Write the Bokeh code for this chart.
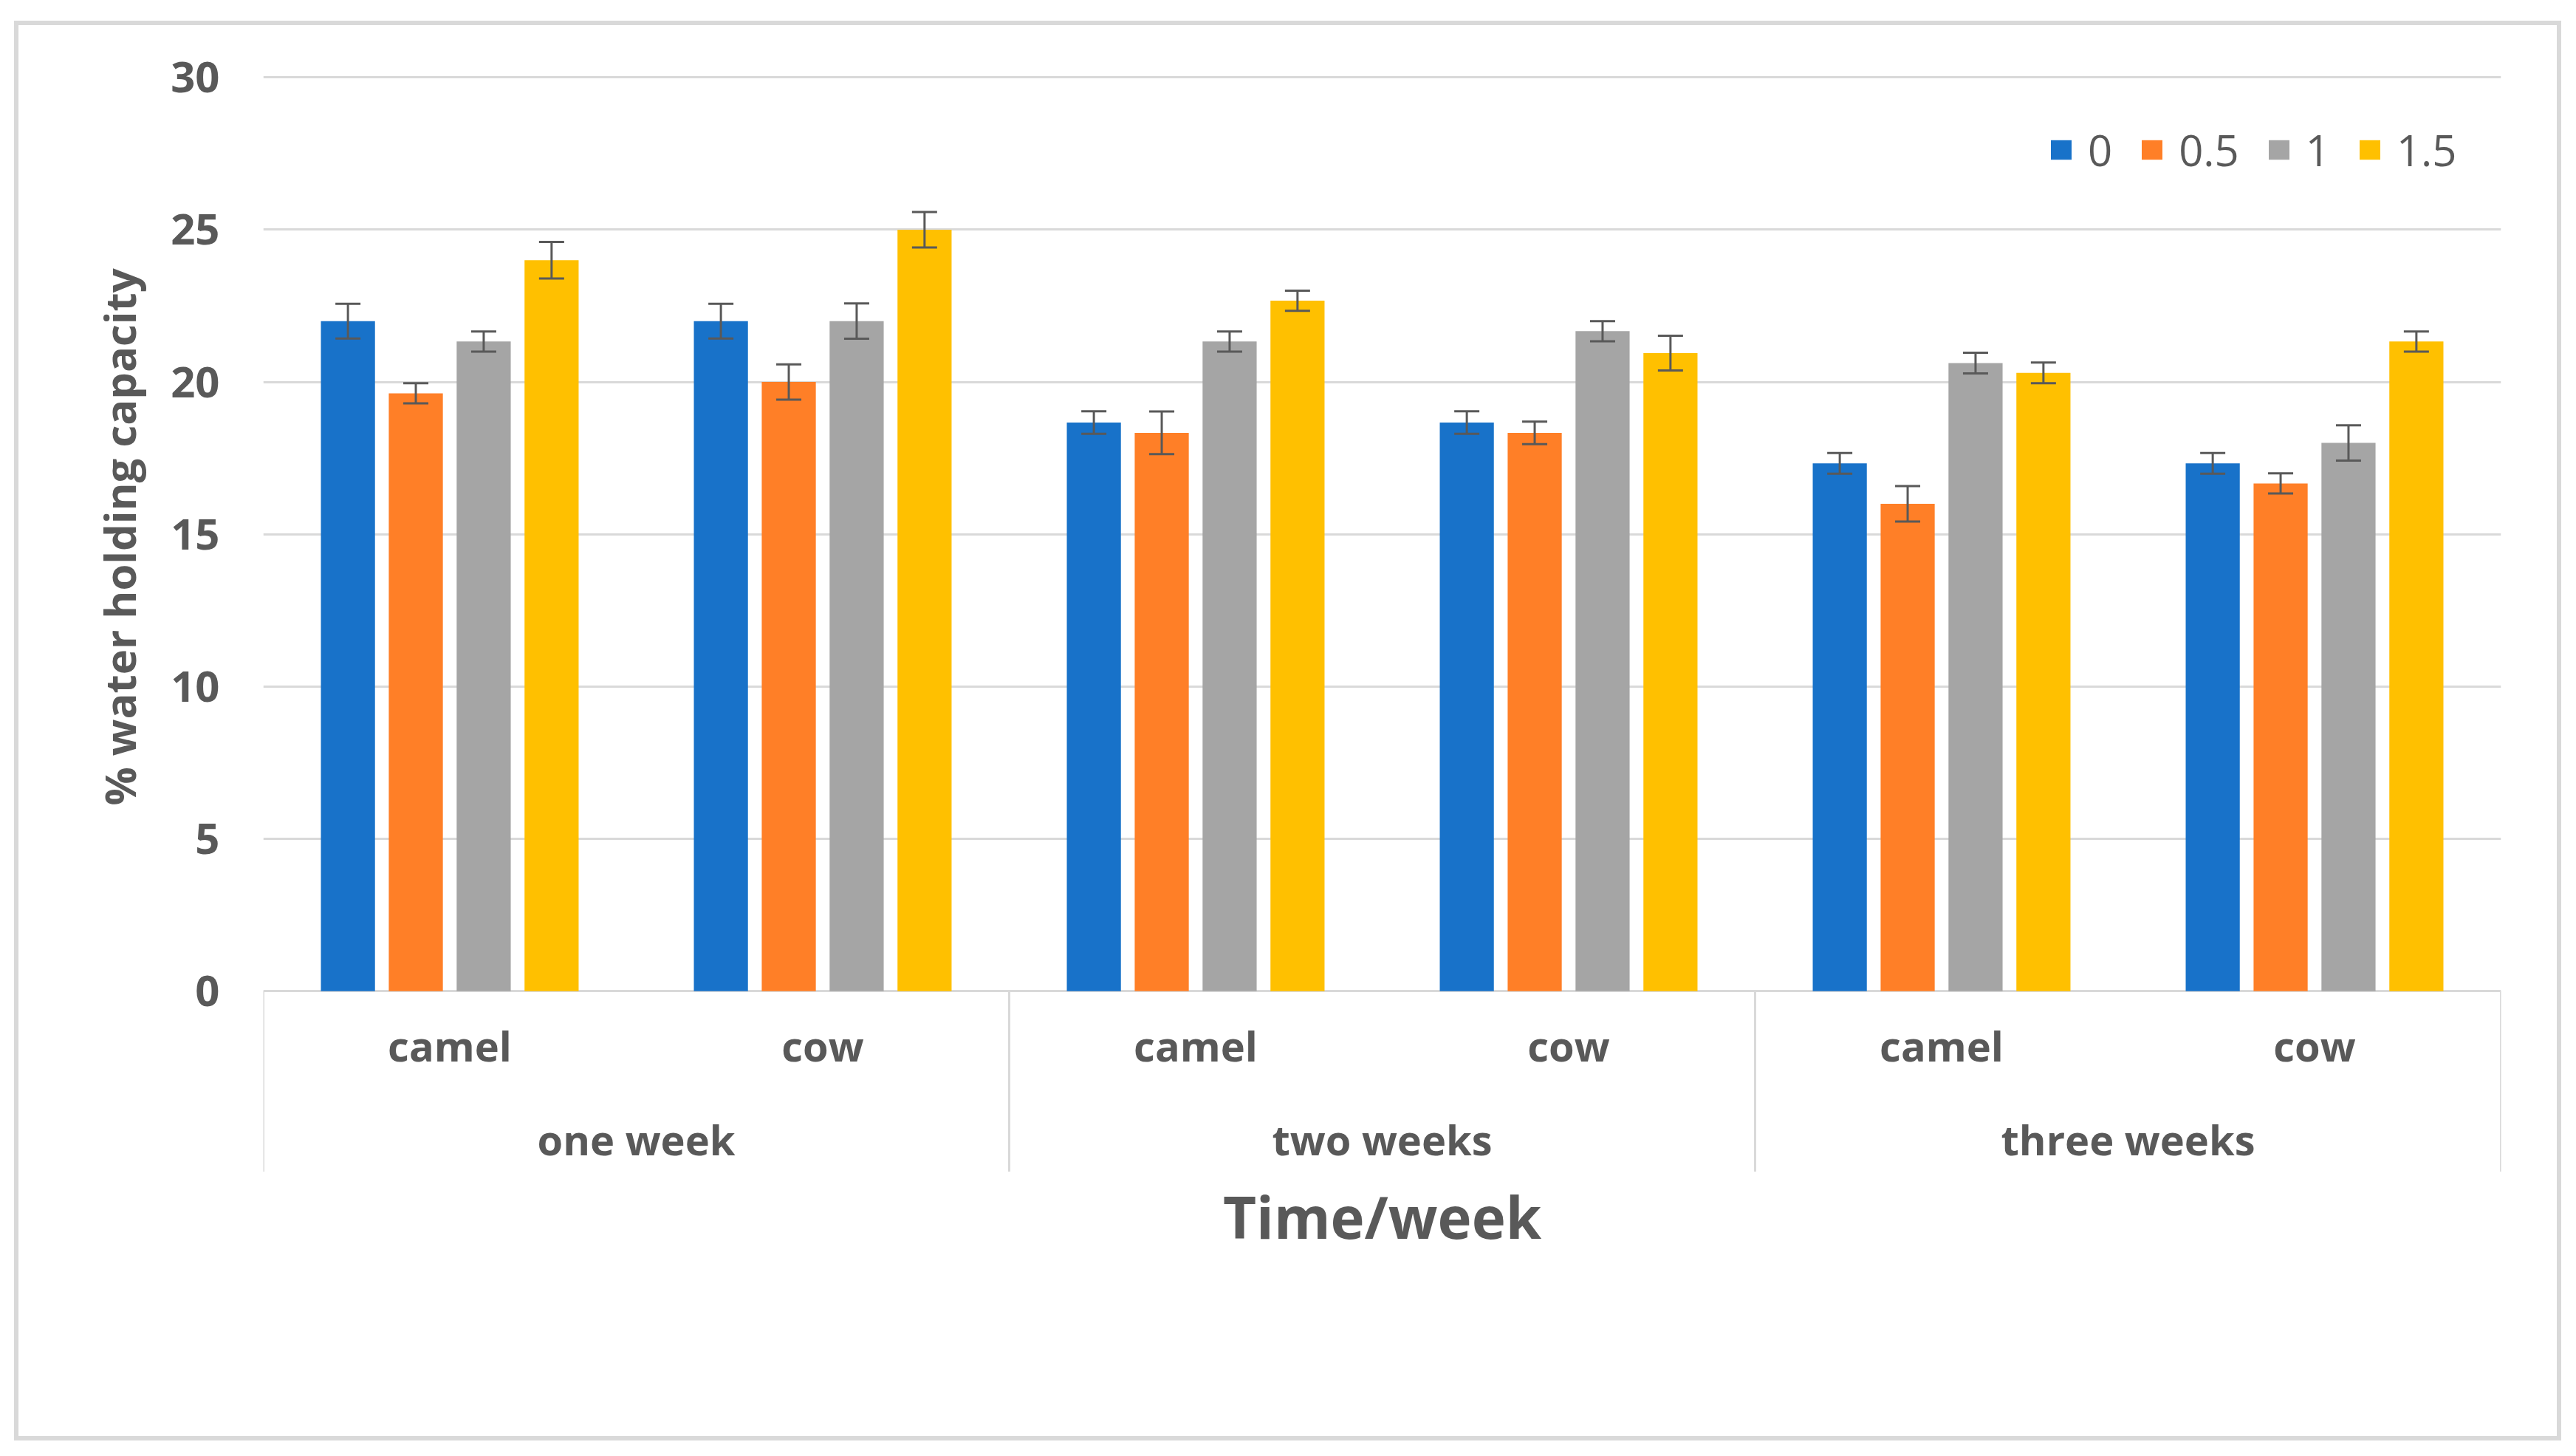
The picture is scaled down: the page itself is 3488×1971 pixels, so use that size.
import math
from bokeh.plotting import figure
from bokeh.models import (ColumnDataSource, FactorRange, Range1d, FixedTicker,
                          Whisker, TeeHead, Label, Legend, Title)
from bokeh.transform import dodge
from bokeh.core.properties import value
from bokeh.embed import file_html
from bokeh.resources import INLINE

# ---------------- data ----------------
weeks = ["one week", "two weeks", "three weeks"]
animals = ["camel", "cow"]
doses = ["0", "0.5", "1", "1.5"]

# % water holding capacity, order: (one week camel, one week cow, two weeks camel, ...)
whc_0 = [22.0, 22.0, 18.67, 18.67, 17.33, 17.33]
whc_05 = [19.63, 20.0, 18.33, 18.33, 16.0, 16.67]
whc_1 = [21.33, 22.0, 21.33, 21.67, 20.62, 18.0]
whc_15 = [24.0, 25.0, 22.67, 20.95, 20.3, 21.33]

err_0 = [0.57, 0.57, 0.37, 0.37, 0.34, 0.34]
err_05 = [0.33, 0.58, 0.70, 0.37, 0.58, 0.33]
err_1 = [0.33, 0.58, 0.33, 0.33, 0.34, 0.58]
err_15 = [0.60, 0.58, 0.33, 0.57, 0.34, 0.33]

y_ticks = [0, 5, 10, 15, 20, 25, 30]

x_title = "Time/week"
y_title = "% water holding capacity"

# ---------------- styling ----------------
colors = ["#1872C9", "#FF7F27", "#A5A5A5", "#FFC000"]
offsets = [-0.273, -0.091, 0.091, 0.273]
bar_width = 0.145
text_color = "#595959"
grid_color = "#D9D9D9"
FONT = "Open Sans"

factors = [(w, a) for w in weeks for a in animals]
series = [whc_0, whc_05, whc_1, whc_15]
errors = [err_0, err_05, err_1, err_15]

data = dict(x=factors)
for i, (vals, errs) in enumerate(zip(series, errors)):
    data[f"v{i}"] = vals
    data[f"up{i}"] = [v + e for v, e in zip(vals, errs)]
    data[f"lo{i}"] = [v - e for v, e in zip(vals, errs)]
src = ColumnDataSource(data)

p = figure(
    x_range=FactorRange(*factors, factor_padding=0, group_padding=0, range_padding=0),
    y_range=Range1d(-10.5, 30.3),
    width=3449, height=1922,
    x_axis_location=None,
    toolbar_location=None, output_backend="svg",
    min_border_left=331, min_border_right=88, min_border_top=58, min_border_bottom=182,
    background_fill_color="white", border_fill_color="white",
    outline_line_color=None,
    styles={"position": "relative", "left": "19px", "top": "28px",
            "box-sizing": "border-box", "border": "6px solid #D9D9D9"},
)

# grid
for g in p.xgrid:
    g.visible = False
p.ygrid.ticker = FixedTicker(ticks=y_ticks)
p.ygrid.grid_line_color = grid_color
p.ygrid.grid_line_width = 3

# y axis
ax = p.yaxis[0]
ax.ticker = FixedTicker(ticks=y_ticks)
ax.axis_line_color = None
ax.major_tick_line_color = None
ax.minor_tick_line_color = None
ax.major_tick_out = 0
ax.major_tick_in = 0
ax.major_label_standoff = 59
ax.major_label_text_font = FONT
ax.major_label_text_font_style = "bold"
ax.major_label_text_font_size = "58px"
ax.major_label_text_color = text_color

# bars + error bars
renderers = []
for i in range(4):
    xd = dodge("x", offsets[i], range=p.x_range)
    r = p.vbar(x=xd, top=f"v{i}", width=bar_width, source=src,
               fill_color=colors[i], line_color=None)
    renderers.append(r)
    w = Whisker(base=dodge("x", offsets[i], range=p.x_range),
                upper=f"up{i}", lower=f"lo{i}", source=src, level="annotation",
                line_color=text_color, line_width=3,
                upper_head=TeeHead(size=34, line_color=text_color, line_width=3),
                lower_head=TeeHead(size=34, line_color=text_color, line_width=3))
    p.add_layout(w)

# category separators below the baseline
sep_left = ColumnDataSource(dict(x=[(w, animals[0]) for w in weeks]))
sep_right = ColumnDataSource(dict(x=[(weeks[-1], animals[-1])]))
p.segment(x0=dodge("x", -0.5, range=p.x_range), x1=dodge("x", -0.5, range=p.x_range),
          y0=0, y1=-5.93, source=sep_left, line_color=grid_color, line_width=3)
p.segment(x0=dodge("x", 0.5, range=p.x_range), x1=dodge("x", 0.5, range=p.x_range),
          y0=0, y1=-5.93, source=sep_right, line_color=grid_color, line_width=3)

# category labels
sub_src = ColumnDataSource(dict(x=factors, t=[f[1] for f in factors]))
p.text(x="x", y=-1.77, text="t", source=sub_src, text_font=value(FONT),
       text_font_style="bold", text_font_size="56px", text_color=text_color,
       text_align="center", text_baseline="alphabetic")
grp_src = ColumnDataSource(dict(x=weeks, t=weeks))
p.text(x="x", y=-4.85, text="t", source=grp_src, text_font=value(FONT),
       text_font_style="bold", text_font_size="56px", text_color=text_color,
       text_align="center", text_baseline="alphabetic")

# axis titles
p.add_layout(Label(x=len(factors) / 2, y=-7.41, text=x_title, text_font=FONT,
                   text_font_style="bold", text_font_size="78px",
                   text_color=text_color, text_align="center",
                   text_baseline="alphabetic"))
p.add_layout(Title(text=y_title, align="left", offset=684, vertical_align="top",
                   standoff=52, text_font=FONT, text_font_style="bold",
                   text_font_size="58px", text_color=text_color), "left")

# legend
legend = Legend(items=[(d, [r]) for d, r in zip(doses, renderers)],
                orientation="horizontal", location=(2417, 1532),
                border_line_color=None, background_fill_alpha=0,
                padding=0, margin=0, spacing=36,
                glyph_width=35, glyph_height=33, label_standoff=19,
                label_text_font=FONT, label_text_font_size="58px",
                label_text_color=text_color)
p.add_layout(legend)

open("out.html", "w").write(file_html(p, INLINE))
